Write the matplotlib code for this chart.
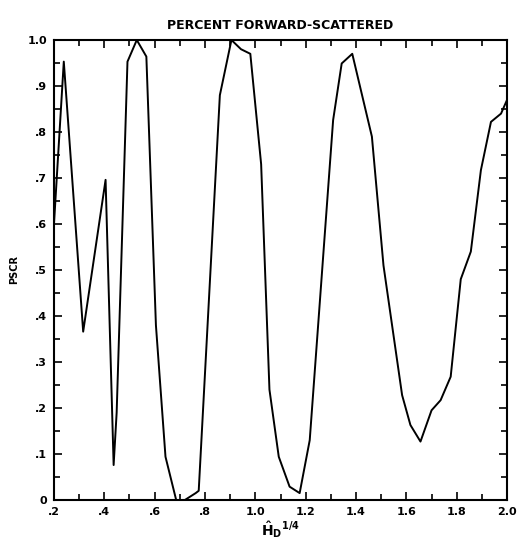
import numpy as np
import matplotlib
matplotlib.use('Agg')
from matplotlib import pyplot as plt
from matplotlib.ticker import MultipleLocator

# values
hd = [0.2, 0.239, 0.316, 0.405, 0.437, 0.449, 0.492, 0.529, 0.567, 0.605,
      0.643, 0.69, 0.72, 0.763, 0.775, 0.859, 0.905, 0.943, 0.98, 1.023,
      1.056, 1.093, 1.136, 1.176, 1.216, 1.309, 1.343, 1.385, 1.463, 1.509,
      1.583, 1.616, 1.656, 1.70, 1.736, 1.776, 1.816, 1.856, 1.896, 1.936,
      1.976, 2.0]
pscr = [0.6, 0.953, 0.366, 0.696, 0.076, 0.19, 0.953, 1.0, 0.964, 0.38,
        0.094, -0.01, 0.0, 0.015, 0.02, 0.88, 1.0, 0.98, 0.97, 0.73,
        0.24, 0.094, 0.029, 0.015, 0.13, 0.826, 0.949, 0.97, 0.79, 0.51,
        0.228, 0.163, 0.127, 0.195, 0.217, 0.268, 0.48, 0.54, 0.717, 0.822,
        0.84, 0.87]

xticks = [0.2, 0.4, 0.6, 0.8, 1.0, 1.2, 1.4, 1.6, 1.8, 2.0]
xlabels = ['.2', '.4', '.6', '.8', '1.0', '1.2', '1.4', '1.6', '1.8', '2.0']
yticks = [0, 0.1, 0.2, 0.3, 0.4, 0.5, 0.6, 0.7, 0.8, 0.9, 1.0]
ylabels = ['0', '.1', '.2', '.3', '.4', '.5', '.6', '.7', '.8', '.9', '1.0']

fig = plt.figure(figsize=(5.22, 5.48), dpi=100)
ax = fig.add_axes([0.1034, 0.0876, 0.868, 0.8394])

ax.plot(hd, pscr, color='black', linewidth=1.4)

ax.set_xlim(0.2, 2.0)
ax.set_ylim(0, 1.0)
ax.set_xticks(xticks)
ax.set_xticklabels(xlabels, fontsize=8, fontweight='bold')
ax.set_yticks(yticks)
ax.set_yticklabels(ylabels, fontsize=8, fontweight='bold')
ax.xaxis.set_minor_locator(MultipleLocator(0.1))
ax.yaxis.set_minor_locator(MultipleLocator(0.05))
ax.tick_params(which='both', direction='in', top=True, right=True, width=1.2)
ax.tick_params(which='major', length=6, pad=5)
ax.tick_params(which='minor', length=4)
for s in ax.spines.values():
    s.set_linewidth(1.5)

ax.set_title('PERCENT FORWARD-SCATTERED', fontsize=9, fontweight='bold', pad=8)
ax.set_ylabel('PSCR', fontsize=7, fontweight='bold', labelpad=6)
ax.set_xlabel(r'$\mathbf{\hat{H}_D}^{\mathbf{1/4}}$', fontsize=10, labelpad=2)

fig.savefig('out.png', dpi=100)
